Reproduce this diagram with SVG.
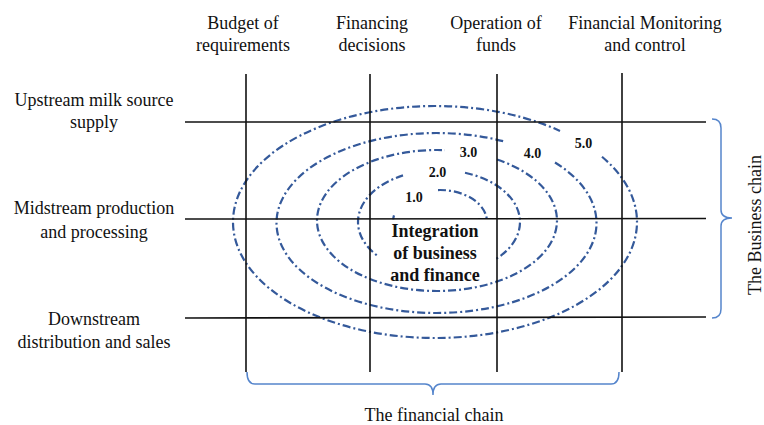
<svg xmlns="http://www.w3.org/2000/svg" width="764" height="425" viewBox="0 0 764 425">
  <style>
    text { font-family: 'Liberation Serif', 'Times New Roman', 'DejaVu Serif', serif; fill: #111; text-anchor: middle; }
    .lbl { font-size: 18px; }
    .num { font-size: 14px; font-weight: bold; }
    .core { font-size: 18px; font-weight: bold; }
    .ring { fill: none; stroke: #34599a; stroke-width: 2.2; stroke-dasharray: 8 3 2 3; }
    .grid { stroke: #111; stroke-width: 1.6; fill: none; }
    .brace { fill: none; stroke: #5585cc; stroke-width: 1.5; }
  </style>
  <rect x="0" y="0" width="764" height="425" fill="#ffffff"/>

  <g id="rings">
    <path id="ring-5" class="ring" d="M 602 156.74 A 202 116 0 1 1 560 130.88"/>
    <path id="ring-4" class="ring" d="M 555 162.53 A 160 90 0 1 1 505 141.67"/>
    <path id="ring-3" class="ring" d="M 497 159.45 A 120 70.5 0 1 1 445 150.16"/>
    <path id="ring-2" class="ring" d="M 465 172.75 A 81 52 0 1 1 403 175.42"/>
    <path id="ring-1" class="ring" d="M 438 190.03 A 47 32 0 1 1 394 215.43"/>
  </g>

  <g id="core">
    <rect x="378" y="221" width="118" height="58" fill="#ffffff"/>
  </g>

  <g id="connectors">
    <line class="grid" x1="185" y1="122" x2="706" y2="122"/>
    <line class="grid" x1="185" y1="219" x2="706" y2="218.5"/>
    <line class="grid" x1="185" y1="318" x2="706" y2="317"/>
    <line class="grid" x1="246" y1="74" x2="246" y2="372"/>
    <line class="grid" x1="370" y1="74" x2="370" y2="372"/>
    <line class="grid" x1="497" y1="74" x2="497" y2="372"/>
    <line class="grid" x1="622" y1="73" x2="622" y2="372"/>
    <path class="brace" d="M 247 372 Q 247 384 255 384 L 425 384 Q 433 384 433 395 Q 433 384 441 384 L 611 384 Q 619 384 619 372"/>
    <path class="brace" d="M 712 119 Q 721 119 721 128 L 721 210 Q 721 218 732 218 Q 721 218 721 226 L 721 309 Q 721 318 712 318"/>
  </g>

  <g id="core-text">
    <text class="core" x="435" y="237">Integration</text>
    <text class="core" x="435" y="259">of business</text>
    <text class="core" x="435" y="281">and finance</text>
  </g>

  <g id="ring-labels">
    <text class="num" x="414" y="202">1.0</text>
    <text class="num" x="437.5" y="177">2.0</text>
    <text class="num" x="468.5" y="157">3.0</text>
    <text class="num" x="532.5" y="158">4.0</text>
    <text class="num" x="583.5" y="148">5.0</text>
  </g>

  <g id="col-budget">
    <text class="lbl" x="243" y="29">Budget of</text>
    <text class="lbl" x="243" y="51">requirements</text>
  </g>
  <g id="col-financing">
    <text class="lbl" x="372" y="29">Financing</text>
    <text class="lbl" x="372" y="51">decisions</text>
  </g>
  <g id="col-operation">
    <text class="lbl" x="496" y="29">Operation of</text>
    <text class="lbl" x="496" y="51">funds</text>
  </g>
  <g id="col-monitoring">
    <text class="lbl" x="645" y="29">Financial Monitoring</text>
    <text class="lbl" x="645" y="51">and control</text>
  </g>

  <g id="row-upstream">
    <text class="lbl" x="94" y="106">Upstream milk source</text>
    <text class="lbl" x="94" y="128">supply</text>
  </g>
  <g id="row-midstream">
    <text class="lbl" x="94" y="214">Midstream production</text>
    <text class="lbl" x="94" y="238">and processing</text>
  </g>
  <g id="row-downstream">
    <text class="lbl" x="94" y="325">Downstream</text>
    <text class="lbl" x="94" y="348">distribution and sales</text>
  </g>

  <g id="financial-chain">
    <text class="lbl" x="434" y="421">The financial chain</text>
  </g>
  <g id="business-chain">
    <text class="lbl" transform="translate(761,225) rotate(-90)">The Business chain</text>
  </g>
</svg>
